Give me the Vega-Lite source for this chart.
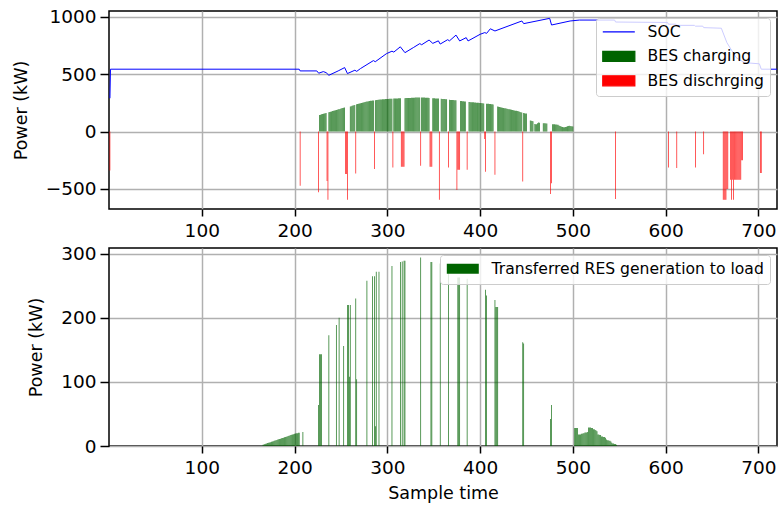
{
  "$schema": "https://vega.github.io/schema/vega-lite/v6.json",
  "background": "white",
  "padding": {"left": 11, "top": 6, "right": 2, "bottom": 2},
  "config": {
    "font": "DejaVu Sans",
    "view": {"stroke": "black", "strokeWidth": 1.5},
    "axis": {
      "labelFont": "DejaVu Sans", "labelFontSize": 18.5, "labelColor": "#000",
      "titleFont": "DejaVu Sans", "titleFontSize": 17.5, "titleFontWeight": "normal", "titleColor": "#000",
      "domain": false, "tickColor": "#000", "tickWidth": 1.5,
      "gridColor": "#b0b0b0", "gridWidth": 1.5, "gridOpacity": 1
    },
    "axisX": {"tickSize": 7, "labelPadding": 5, "titlePadding": 8},
    "axisY": {"tickSize": 9, "labelPadding": 4, "titlePadding": 15},
    "legend": {
      "labelFont": "DejaVu Sans", "labelFontSize": 15.6, "labelColor": "#000", "labelLimit": 600,
      "fillColor": "rgba(255,255,255,0.8)", "strokeColor": "#cccccc", "cornerRadius": 3,
      "padding": 6, "symbolSize": 100, "symbolOffset": 9, "labelOffset": 21, "rowPadding": 7.5, "offset": 7
    }
  },
  "datasets": {
    "soc": [
      {"x":1,"y":290,"k":"SOC"},{"x":1.6,"y":543,"k":"SOC"},{"x":205,"y":543,"k":"SOC"},{"x":206,"y":528,"k":"SOC"},{"x":224,"y":528,"k":"SOC"},{"x":226,"y":508,"k":"SOC"},{"x":231,"y":522,"k":"SOC"},{"x":234,"y":513,"k":"SOC"},{"x":237,"y":490,"k":"SOC"},{"x":247,"y":528,"k":"SOC"},{"x":254,"y":557,"k":"SOC"},{"x":257,"y":505,"k":"SOC"},{"x":265,"y":534,"k":"SOC"},{"x":267,"y":524,"k":"SOC"},{"x":271,"y":548,"k":"SOC"},{"x":285,"y":618,"k":"SOC"},{"x":287,"y":608,"k":"SOC"},{"x":299,"y":678,"k":"SOC"},{"x":305,"y":700,"k":"SOC"},{"x":307,"y":692,"k":"SOC"},{"x":314,"y":738,"k":"SOC"},{"x":319,"y":687,"k":"SOC"},{"x":328,"y":731,"k":"SOC"},{"x":335,"y":766,"k":"SOC"},{"x":337,"y":756,"k":"SOC"},{"x":345,"y":797,"k":"SOC"},{"x":349,"y":768,"k":"SOC"},{"x":355,"y":790,"k":"SOC"},{"x":357,"y":762,"k":"SOC"},{"x":365,"y":800,"k":"SOC"},{"x":367,"y":790,"k":"SOC"},{"x":374,"y":840,"k":"SOC"},{"x":378,"y":789,"k":"SOC"},{"x":385,"y":818,"k":"SOC"},{"x":387,"y":789,"k":"SOC"},{"x":400,"y":847,"k":"SOC"},{"x":405,"y":862,"k":"SOC"},{"x":407,"y":855,"k":"SOC"},{"x":411,"y":895,"k":"SOC"},{"x":416,"y":876,"k":"SOC"},{"x":445,"y":963,"k":"SOC"},{"x":447,"y":940,"k":"SOC"},{"x":475,"y":986,"k":"SOC"},{"x":477,"y":928,"k":"SOC"},{"x":497,"y":963,"k":"SOC"},{"x":507,"y":971,"k":"SOC"},{"x":545,"y":971,"k":"SOC"},{"x":546,"y":954,"k":"SOC"},{"x":602,"y":950,"k":"SOC"},{"x":603,"y":935,"k":"SOC"},{"x":611,"y":935,"k":"SOC"},{"x":612,"y":925,"k":"SOC"},{"x":631,"y":925,"k":"SOC"},{"x":632,"y":918,"k":"SOC"},{"x":640,"y":918,"k":"SOC"},{"x":641,"y":905,"k":"SOC"},{"x":660,"y":900,"k":"SOC"},{"x":666,"y":774,"k":"SOC"},{"x":676,"y":644,"k":"SOC"},{"x":685,"y":600,"k":"SOC"},{"x":701,"y":590,"k":"SOC"},{"x":703,"y":543,"k":"SOC"},{"x":720,"y":543,"k":"SOC"}
    ],
    "bes": [
      {"x":227,"y":145,"k":"BES charging"},{"x":228,"y":147,"k":"BES charging"},{"x":229,"y":150,"k":"BES charging"},{"x":230,"y":152,"k":"BES charging"},{"x":231,"y":155,"k":"BES charging"},{"x":232,"y":157,"k":"BES charging"},{"x":233,"y":160,"k":"BES charging"},{"x":234,"y":162,"k":"BES charging"},{"x":237,"y":168,"k":"BES charging"},{"x":238,"y":170,"k":"BES charging"},{"x":239,"y":173,"k":"BES charging"},{"x":240,"y":175,"k":"BES charging"},{"x":241,"y":178,"k":"BES charging"},{"x":242,"y":180,"k":"BES charging"},{"x":243,"y":183,"k":"BES charging"},{"x":244,"y":185,"k":"BES charging"},{"x":245,"y":188,"k":"BES charging"},{"x":246,"y":190,"k":"BES charging"},{"x":247,"y":193,"k":"BES charging"},{"x":248,"y":195,"k":"BES charging"},{"x":249,"y":197,"k":"BES charging"},{"x":250,"y":200,"k":"BES charging"},{"x":251,"y":202,"k":"BES charging"},{"x":252,"y":205,"k":"BES charging"},{"x":253,"y":207,"k":"BES charging"},{"x":254,"y":209,"k":"BES charging"},
      {"x":260,"y":218,"k":"BES charging"},{"x":261,"y":221,"k":"BES charging"},{"x":262,"y":224,"k":"BES charging"},{"x":263,"y":227,"k":"BES charging"},{"x":264,"y":229,"k":"BES charging"},{"x":265,"y":232,"k":"BES charging"},{"x":267,"y":237,"k":"BES charging"},{"x":268,"y":240,"k":"BES charging"},{"x":269,"y":242,"k":"BES charging"},{"x":270,"y":245,"k":"BES charging"},{"x":271,"y":247,"k":"BES charging"},{"x":272,"y":249,"k":"BES charging"},{"x":273,"y":251,"k":"BES charging"},{"x":274,"y":253,"k":"BES charging"},{"x":275,"y":255,"k":"BES charging"},{"x":276,"y":257,"k":"BES charging"},{"x":277,"y":259,"k":"BES charging"},{"x":278,"y":261,"k":"BES charging"},{"x":279,"y":262,"k":"BES charging"},{"x":280,"y":264,"k":"BES charging"},{"x":281,"y":265,"k":"BES charging"},{"x":282,"y":267,"k":"BES charging"},{"x":283,"y":268,"k":"BES charging"},{"x":284,"y":270,"k":"BES charging"},{"x":285,"y":271,"k":"BES charging"},{"x":287,"y":273,"k":"BES charging"},{"x":288,"y":274,"k":"BES charging"},{"x":289,"y":275,"k":"BES charging"},{"x":290,"y":276,"k":"BES charging"},{"x":291,"y":277,"k":"BES charging"},{"x":292,"y":278,"k":"BES charging"},{"x":293,"y":279,"k":"BES charging"},{"x":294,"y":280,"k":"BES charging"},{"x":295,"y":281,"k":"BES charging"},{"x":296,"y":281,"k":"BES charging"},{"x":297,"y":282,"k":"BES charging"},{"x":298,"y":283,"k":"BES charging"},{"x":299,"y":283,"k":"BES charging"},{"x":300,"y":284,"k":"BES charging"},{"x":301,"y":284,"k":"BES charging"},{"x":302,"y":285,"k":"BES charging"},{"x":303,"y":285,"k":"BES charging"},{"x":304,"y":286,"k":"BES charging"},{"x":305,"y":286,"k":"BES charging"},{"x":307,"y":287,"k":"BES charging"},{"x":308,"y":287,"k":"BES charging"},{"x":309,"y":288,"k":"BES charging"},{"x":310,"y":288,"k":"BES charging"},{"x":311,"y":288,"k":"BES charging"},{"x":312,"y":289,"k":"BES charging"},{"x":313,"y":289,"k":"BES charging"},{"x":314,"y":289,"k":"BES charging"},
      {"x":319,"y":290,"k":"BES charging"},{"x":320,"y":291,"k":"BES charging"},{"x":321,"y":291,"k":"BES charging"},{"x":322,"y":292,"k":"BES charging"},{"x":323,"y":292,"k":"BES charging"},{"x":324,"y":293,"k":"BES charging"},{"x":325,"y":293,"k":"BES charging"},{"x":326,"y":294,"k":"BES charging"},{"x":327,"y":294,"k":"BES charging"},{"x":328,"y":295,"k":"BES charging"},{"x":329,"y":295,"k":"BES charging"},{"x":330,"y":296,"k":"BES charging"},{"x":331,"y":296,"k":"BES charging"},{"x":332,"y":296,"k":"BES charging"},{"x":333,"y":297,"k":"BES charging"},{"x":334,"y":297,"k":"BES charging"},{"x":335,"y":297,"k":"BES charging"},{"x":337,"y":297,"k":"BES charging"},{"x":338,"y":296,"k":"BES charging"},{"x":339,"y":296,"k":"BES charging"},{"x":340,"y":296,"k":"BES charging"},{"x":341,"y":295,"k":"BES charging"},{"x":342,"y":295,"k":"BES charging"},{"x":343,"y":294,"k":"BES charging"},{"x":344,"y":294,"k":"BES charging"},{"x":345,"y":293,"k":"BES charging"},
      {"x":349,"y":290,"k":"BES charging"},{"x":350,"y":289,"k":"BES charging"},{"x":351,"y":289,"k":"BES charging"},{"x":352,"y":288,"k":"BES charging"},{"x":353,"y":288,"k":"BES charging"},{"x":354,"y":288,"k":"BES charging"},{"x":355,"y":287,"k":"BES charging"},
      {"x":358,"y":285,"k":"BES charging"},{"x":359,"y":284,"k":"BES charging"},{"x":360,"y":284,"k":"BES charging"},{"x":361,"y":283,"k":"BES charging"},{"x":362,"y":283,"k":"BES charging"},{"x":363,"y":282,"k":"BES charging"},{"x":364,"y":282,"k":"BES charging"},
      {"x":367,"y":276,"k":"BES charging"},{"x":368,"y":275,"k":"BES charging"},{"x":369,"y":275,"k":"BES charging"},{"x":370,"y":274,"k":"BES charging"},{"x":371,"y":274,"k":"BES charging"},{"x":372,"y":273,"k":"BES charging"},{"x":373,"y":273,"k":"BES charging"},{"x":374,"y":272,"k":"BES charging"},
      {"x":379,"y":266,"k":"BES charging"},{"x":380,"y":265,"k":"BES charging"},{"x":381,"y":264,"k":"BES charging"},{"x":382,"y":263,"k":"BES charging"},{"x":383,"y":262,"k":"BES charging"},{"x":384,"y":261,"k":"BES charging"},
      {"x":388,"y":258,"k":"BES charging"},{"x":389,"y":257,"k":"BES charging"},{"x":390,"y":256,"k":"BES charging"},{"x":391,"y":255,"k":"BES charging"},{"x":392,"y":255,"k":"BES charging"},{"x":393,"y":254,"k":"BES charging"},{"x":394,"y":253,"k":"BES charging"},{"x":395,"y":252,"k":"BES charging"},{"x":396,"y":251,"k":"BES charging"},{"x":397,"y":251,"k":"BES charging"},{"x":398,"y":250,"k":"BES charging"},{"x":399,"y":249,"k":"BES charging"},{"x":400,"y":248,"k":"BES charging"},{"x":401,"y":248,"k":"BES charging"},{"x":402,"y":247,"k":"BES charging"},{"x":403,"y":246,"k":"BES charging"},{"x":404,"y":245,"k":"BES charging"},{"x":407,"y":243,"k":"BES charging"},{"x":408,"y":242,"k":"BES charging"},{"x":409,"y":241,"k":"BES charging"},{"x":410,"y":240,"k":"BES charging"},{"x":411,"y":239,"k":"BES charging"},{"x":412,"y":238,"k":"BES charging"},{"x":413,"y":237,"k":"BES charging"},{"x":414,"y":236,"k":"BES charging"},
      {"x":419,"y":217,"k":"BES charging"},{"x":420,"y":215,"k":"BES charging"},{"x":421,"y":213,"k":"BES charging"},{"x":422,"y":211,"k":"BES charging"},{"x":423,"y":209,"k":"BES charging"},{"x":424,"y":207,"k":"BES charging"},{"x":425,"y":205,"k":"BES charging"},{"x":426,"y":203,"k":"BES charging"},{"x":427,"y":202,"k":"BES charging"},{"x":428,"y":200,"k":"BES charging"},{"x":429,"y":198,"k":"BES charging"},{"x":430,"y":196,"k":"BES charging"},{"x":431,"y":195,"k":"BES charging"},{"x":432,"y":193,"k":"BES charging"},{"x":433,"y":191,"k":"BES charging"},{"x":434,"y":190,"k":"BES charging"},{"x":435,"y":188,"k":"BES charging"},{"x":436,"y":186,"k":"BES charging"},{"x":437,"y":184,"k":"BES charging"},{"x":438,"y":182,"k":"BES charging"},{"x":439,"y":180,"k":"BES charging"},{"x":440,"y":178,"k":"BES charging"},{"x":441,"y":176,"k":"BES charging"},{"x":442,"y":174,"k":"BES charging"},{"x":443,"y":171,"k":"BES charging"},{"x":444,"y":168,"k":"BES charging"},{"x":445,"y":165,"k":"BES charging"},{"x":447,"y":162,"k":"BES charging"},{"x":448,"y":160,"k":"BES charging"},{"x":449,"y":158,"k":"BES charging"},{"x":450,"y":157,"k":"BES charging"},
      {"x":454,"y":95,"k":"BES charging"},{"x":455,"y":93,"k":"BES charging"},{"x":456,"y":92,"k":"BES charging"},{"x":457,"y":90,"k":"BES charging"},
      {"x":459,"y":66,"k":"BES charging"},{"x":460,"y":64,"k":"BES charging"},{"x":461,"y":64,"k":"BES charging"},{"x":462,"y":72,"k":"BES charging"},{"x":463,"y":78,"k":"BES charging"},{"x":464,"y":76,"k":"BES charging"},
      {"x":468,"y":72,"k":"BES charging"},{"x":469,"y":71,"k":"BES charging"},{"x":470,"y":71,"k":"BES charging"},{"x":471,"y":70,"k":"BES charging"},{"x":472,"y":70,"k":"BES charging"},
      {"x":478,"y":64,"k":"BES charging"},{"x":479,"y":63,"k":"BES charging"},{"x":480,"y":63,"k":"BES charging"},{"x":481,"y":62,"k":"BES charging"},{"x":482,"y":61,"k":"BES charging"},{"x":483,"y":60,"k":"BES charging"},{"x":484,"y":58,"k":"BES charging"},{"x":485,"y":52,"k":"BES charging"},{"x":486,"y":48,"k":"BES charging"},{"x":487,"y":46,"k":"BES charging"},{"x":488,"y":42,"k":"BES charging"},{"x":489,"y":40,"k":"BES charging"},{"x":490,"y":38,"k":"BES charging"},{"x":491,"y":38,"k":"BES charging"},{"x":492,"y":40,"k":"BES charging"},{"x":493,"y":42,"k":"BES charging"},{"x":494,"y":45,"k":"BES charging"},{"x":495,"y":48,"k":"BES charging"},{"x":496,"y":50,"k":"BES charging"},{"x":497,"y":48,"k":"BES charging"},{"x":498,"y":46,"k":"BES charging"},{"x":499,"y":45,"k":"BES charging"},{"x":500,"y":44,"k":"BES charging"},
      {"x":1,"y":-340,"k":"BES dischrging"},{"x":206,"y":-472,"k":"BES dischrging"},{"x":226,"y":-530,"k":"BES dischrging"},{"x":235,"y":-430,"k":"BES dischrging"},{"x":236,"y":-594,"k":"BES dischrging"},{"x":255,"y":-370,"k":"BES dischrging"},{"x":256,"y":-370,"k":"BES dischrging"},{"x":257,"y":-594,"k":"BES dischrging"},{"x":266,"y":-365,"k":"BES dischrging"},{"x":286,"y":-327,"k":"BES dischrging"},{"x":306,"y":-313,"k":"BES dischrging"},{"x":315,"y":-307,"k":"BES dischrging"},{"x":316,"y":-307,"k":"BES dischrging"},{"x":317,"y":-307,"k":"BES dischrging"},{"x":318,"y":-307,"k":"BES dischrging"},{"x":336,"y":-298,"k":"BES dischrging"},{"x":346,"y":-307,"k":"BES dischrging"},{"x":347,"y":-307,"k":"BES dischrging"},{"x":348,"y":-307,"k":"BES dischrging"},{"x":356,"y":-594,"k":"BES dischrging"},{"x":366,"y":-313,"k":"BES dischrging"},{"x":375,"y":-510,"k":"BES dischrging"},{"x":376,"y":-333,"k":"BES dischrging"},{"x":377,"y":-333,"k":"BES dischrging"},{"x":378,"y":-333,"k":"BES dischrging"},{"x":386,"y":-333,"k":"BES dischrging"},{"x":405,"y":-66,"k":"BES dischrging"},{"x":406,"y":-350,"k":"BES dischrging"},{"x":416,"y":-377,"k":"BES dischrging"},{"x":446,"y":-435,"k":"BES dischrging"},{"x":476,"y":-545,"k":"BES dischrging"},{"x":477,"y":-450,"k":"BES dischrging"},{"x":546,"y":-588,"k":"BES dischrging"},{"x":603,"y":-313,"k":"BES dischrging"},{"x":612,"y":-318,"k":"BES dischrging"},{"x":632,"y":-313,"k":"BES dischrging"},{"x":641,"y":-197,"k":"BES dischrging"},{"x":662,"y":-594,"k":"BES dischrging"},{"x":663,"y":-594,"k":"BES dischrging"},{"x":664,"y":-594,"k":"BES dischrging"},{"x":665,"y":-594,"k":"BES dischrging"},{"x":666,"y":-500,"k":"BES dischrging"},{"x":667,"y":-500,"k":"BES dischrging"},{"x":670,"y":-420,"k":"BES dischrging"},{"x":671,"y":-594,"k":"BES dischrging"},{"x":672,"y":-420,"k":"BES dischrging"},{"x":673,"y":-594,"k":"BES dischrging"},{"x":674,"y":-420,"k":"BES dischrging"},{"x":675,"y":-420,"k":"BES dischrging"},{"x":676,"y":-420,"k":"BES dischrging"},{"x":677,"y":-420,"k":"BES dischrging"},{"x":678,"y":-420,"k":"BES dischrging"},{"x":679,"y":-420,"k":"BES dischrging"},{"x":680,"y":-420,"k":"BES dischrging"},{"x":681,"y":-420,"k":"BES dischrging"},{"x":682,"y":-250,"k":"BES dischrging"},{"x":683,"y":-250,"k":"BES dischrging"},{"x":702,"y":-362,"k":"BES dischrging"},{"x":703,"y":-362,"k":"BES dischrging"}
    ],
    "res": [
      {"x":166,"y":2},{"x":167,"y":2.5},{"x":168,"y":3},{"x":169,"y":3.5},{"x":170,"y":4},{"x":171,"y":4.5},{"x":172,"y":5},{"x":173,"y":5.5},{"x":174,"y":6},{"x":175,"y":6.5},{"x":176,"y":7},{"x":177,"y":7.5},{"x":178,"y":8},{"x":179,"y":8.5},{"x":180,"y":9},{"x":181,"y":9.5},{"x":182,"y":10},{"x":183,"y":10.5},{"x":184,"y":11},{"x":185,"y":11.5},{"x":186,"y":12},{"x":187,"y":12.5},{"x":188,"y":13},{"x":189,"y":13.5},{"x":190,"y":14},{"x":191,"y":14.5},{"x":192,"y":15},{"x":193,"y":15.5},{"x":194,"y":16},{"x":195,"y":16.5},{"x":196,"y":17},{"x":197,"y":17.5},{"x":198,"y":18},{"x":199,"y":18.5},{"x":200,"y":19},{"x":201,"y":19.5},{"x":202,"y":20},{"x":203,"y":20},{"x":204,"y":20.5},{"x":205,"y":20.5},{"x":209,"y":22},
      {"x":226,"y":64},{"x":227,"y":143},{"x":228,"y":143},{"x":229,"y":143},{"x":237,"y":173},{"x":245,"y":189},{"x":248,"y":200},{"x":253,"y":156},{"x":257,"y":220},{"x":258,"y":220},{"x":259,"y":108},{"x":260,"y":220},{"x":266,"y":230},{"x":267,"y":104},{"x":278,"y":258},{"x":284,"y":265},{"x":286,"y":265},{"x":287,"y":31},{"x":288,"y":272},{"x":291,"y":272},{"x":305,"y":281},{"x":314,"y":287},{"x":316,"y":288},{"x":318,"y":289},{"x":319,"y":289},{"x":336,"y":294},{"x":347,"y":287},{"x":348,"y":287},{"x":357,"y":285},{"x":366,"y":282},{"x":376,"y":263},{"x":377,"y":263},{"x":378,"y":263},{"x":386,"y":261},{"x":406,"y":244},{"x":407,"y":235},{"x":416,"y":228},{"x":417,"y":217},{"x":418,"y":217},{"x":419,"y":217},{"x":446,"y":162},{"x":447,"y":160},{"x":476,"y":42},{"x":477,"y":64},
      {"x":502,"y":28},{"x":503,"y":28},{"x":504,"y":28},{"x":505,"y":28},{"x":506,"y":18},{"x":507,"y":18},{"x":508,"y":18},{"x":509,"y":19},{"x":510,"y":19},{"x":511,"y":20},{"x":512,"y":20},{"x":513,"y":21},{"x":514,"y":21},{"x":515,"y":21},{"x":516,"y":22},{"x":517,"y":29},{"x":518,"y":29},{"x":519,"y":29},{"x":520,"y":28},{"x":521,"y":28},{"x":522,"y":26},{"x":523,"y":26},{"x":524,"y":25},{"x":525,"y":24},{"x":526,"y":23},{"x":527,"y":18},{"x":528,"y":18},{"x":529,"y":17},{"x":530,"y":17},{"x":531,"y":15},{"x":532,"y":15},{"x":533,"y":14},{"x":534,"y":14},{"x":535,"y":13},{"x":536,"y":10},{"x":537,"y":9},{"x":538,"y":9},{"x":539,"y":8},{"x":540,"y":8},{"x":541,"y":7},{"x":542,"y":5},{"x":543,"y":4},{"x":544,"y":4},{"x":545,"y":3},{"x":546,"y":3},{"x":547,"y":2}
    ]
  },
  "vconcat": [
    {
      "width": 668,
      "height": 198,
      "layer": [
        {
          "data": {"name": "bes"},
          "mark": {"type": "bar", "width": 0.65, "clip": true},
          "encoding": {
            "x": {"field": "x", "type": "quantitative", "scale": {"domain": [0, 720], "nice": false, "zero": false, "padding": 0},
                  "axis": {"title": null, "values": [100,200,300,400,500,600,700], "grid": true}},
            "y": {"field": "y", "type": "quantitative", "scale": {"domain": [-675, 1050], "nice": false, "padding": 0},
                  "axis": {"title": "Power (kW)", "values": [-500,0,500,1000], "format": "d", "grid": true}},
            "color": {"field": "k", "type": "nominal",
                      "scale": {"domain": ["SOC","BES charging","BES dischrging"], "range": ["#0000ff","#006400","#ff0000"]},
                      "legend": {"title": null, "orient": "top-right",
                        "encode": {"symbols": {"update": {
                          "shape": {"signal": "datum.value === 'SOC' ? 'M-3.2,0H3.2' : 'M-3.2,-1H3.2V1H-3.2Z'"},
                          "size": {"value": 100},
                          "fill": {"signal": "datum.value === 'BES charging' ? '#006400' : datum.value === 'BES dischrging' ? '#ff0000' : 'transparent'"},
                          "stroke": {"signal": "datum.value === 'SOC' ? '#0000ff' : 'transparent'"},
                          "strokeWidth": {"value": 1.3},
                          "opacity": {"value": 1}
                        }}}}}
          }
        },
        {
          "data": {"name": "soc"},
          "mark": {"type": "line", "strokeWidth": 1, "clip": true},
          "encoding": {
            "x": {"field": "x", "type": "quantitative"},
            "y": {"field": "y", "type": "quantitative"},
            "color": {"field": "k", "type": "nominal"}
          }
        }
      ]
    },
    {
      "width": 668,
      "height": 198,
      "data": {"name": "res"},
      "mark": {"type": "bar", "width": 0.65, "clip": true},
      "encoding": {
        "x": {"field": "x", "type": "quantitative", "scale": {"domain": [0, 720], "nice": false, "zero": false, "padding": 0},
              "axis": {"title": "Sample time", "values": [100,200,300,400,500,600,700], "grid": true}},
        "y": {"field": "y", "type": "quantitative", "scale": {"domain": [0, 309], "nice": false, "padding": 0},
              "axis": {"title": "Power (kW)", "values": [0,100,200,300], "format": "d", "grid": true}},
        "color": {"datum": "Transferred RES generation to load", "type": "nominal",
                  "scale": {"range": ["#006400"]},
                  "legend": {"title": null, "orient": "top-right",
                    "encode": {"symbols": {"update": {
                      "shape": {"value": "M-3.2,-1H3.2V1H-3.2Z"},
                      "size": {"value": 100},
                      "fill": {"value": "#006400"},
                      "stroke": {"value": "transparent"},
                      "opacity": {"value": 1}
                    }}}}}
      }
    }
  ],
  "spacing": 39,
  "bounds": "flush",
  "resolve": {"scale": {"color": "independent", "x": "independent", "y": "independent"}}
}
